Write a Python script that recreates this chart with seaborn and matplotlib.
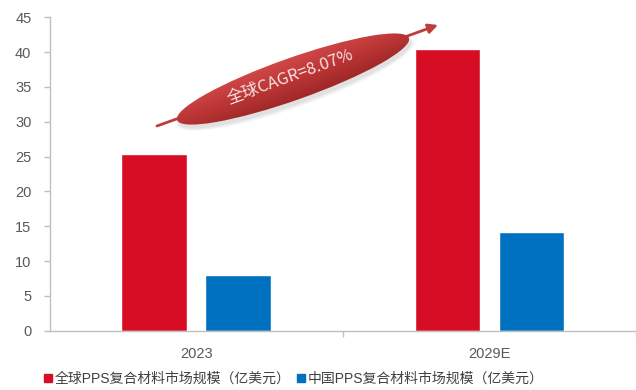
import numpy as np
import pandas as pd
import matplotlib
matplotlib.use("Agg")
import matplotlib.pyplot as plt
import seaborn as sns
from matplotlib.patches import Ellipse
from matplotlib.lines import Line2D
from matplotlib.colors import LinearSegmentedColormap

# Market size data (100 million USD)
years = ["2023", "2029E"]
series = ["全球PPS复合材料市场规模（亿美元）", "中国PPS复合材料市场规模（亿美元）"]
global_size = [25.4, 40.45]
china_size = [8.0, 14.2]
colors = ["#D60D25", "#0070C0"]
cagr_label = "全球CAGR=8.07%"

df = pd.DataFrame({
    "year": years * 2,
    "series": [series[0]] * 2 + [series[1]] * 2,
    "value": global_size + china_size,
})

sns.set_theme(style="white")
plt.rcParams["font.family"] = ["Liberation Sans", "Noto Sans CJK SC"]

W, H = 636, 390
fig = plt.figure(figsize=(W / 100, H / 100), dpi=100)
ax = fig.add_axes([49.5 / W, 1 - 330.7 / H, (W - 49.5) / W, (330.7 - 17.3) / H])

sns.barplot(data=df, x="year", y="value", hue="series", palette=colors,
            width=0.572, gap=0.22, ax=ax, legend=False, saturation=1)

ax.set_ylim(0, 45)
ax.set_yticks(np.arange(0, 46, 5))
ax.set_xlim(-0.5, -0.5 + (W - 49.5) / 295.5)
ax.set_xlabel("")
ax.set_ylabel("")

grey = "#BFBFBF"
txt = "#595959"
for s in ["top", "right"]:
    ax.spines[s].set_visible(False)
for s in ["left", "bottom"]:
    ax.spines[s].set_color(grey)
    ax.spines[s].set_linewidth(1.0)

ax.tick_params(axis="y", which="major", direction="out", length=4, width=1,
               color=grey, labelcolor=txt, labelsize=10.5, pad=9, left=True)
ax.set_xticks([0.5, 1.5], minor=True)
ax.tick_params(axis="x", which="minor", direction="out", length=4, width=1,
               color=grey, bottom=True)
ax.tick_params(axis="x", which="major", length=0, labelcolor=txt,
               labelsize=10.5, pad=12)

# Legend below the plot
handles = [Line2D([0], [0], marker="s", linestyle="none", markersize=6,
                  markerfacecolor=c, markeredgecolor=c) for c in colors]
fig.legend(handles, series, loc="center left", bbox_to_anchor=(30 / W, 1 - 379 / H),
           ncol=2, frameon=False, fontsize=10, handletextpad=0.1,
           columnspacing=0.3, handlelength=0.8, labelcolor="#404040")

# Overlay in pixel coordinates for the growth annotation
ov = fig.add_axes([0, 0, 1, 1], facecolor="none")
ov.set_xlim(0, W)
ov.set_ylim(0, H)
ov.axis("off")

def py(y):
    return H - y

# Arrow across the bars
ov.annotate("", xy=(438, py(25)), xytext=(157, py(126)),
            arrowprops=dict(arrowstyle="-|>", color="#C23B3B", lw=2,
                            mutation_scale=14, shrinkA=0, shrinkB=0), zorder=1)

cx, cy = 293, py(79)
ang = 19.5
ew, eh = 246, 42

# Soft shadow
for k, a in enumerate([0.06, 0.08, 0.1]):
    sh = Ellipse((cx + 2, cy - 4), ew + 6 - 3 * k, eh + 6 - 3 * k, angle=ang,
                 facecolor="#7a7a7a", edgecolor="none", alpha=a, zorder=2)
    ov.add_patch(sh)

# Shaded ellipse body
ell = Ellipse((cx, cy), ew, eh, angle=ang, facecolor="none", edgecolor="none", zorder=3)
ov.add_patch(ell)
xs = np.linspace(cx - 130, cx + 130, 260)
ys = np.linspace(cy - 60, cy + 60, 120)
X, Y = np.meshgrid(xs, ys)
t = np.deg2rad(ang)
u = (-(X - cx) * np.sin(t) + (Y - cy) * np.cos(t)) / (eh / 2)
v = ((X - cx) * np.cos(t) + (Y - cy) * np.sin(t)) / (ew / 2)
g = np.clip(0.5 + 0.5 * u, 0, 1) - 0.15 * np.clip(v, 0, 1)
cmap = LinearSegmentedColormap.from_list("shade", ["#A02828", "#BD3636", "#D04747"])
im = ov.imshow(g, extent=(xs[0], xs[-1], ys[0], ys[-1]), origin="lower",
               cmap=cmap, vmin=0, vmax=1, zorder=3, aspect="auto",
               interpolation="bilinear")
im.set_clip_path(ell)

ov.text(290, py(77), cagr_label, rotation=20, rotation_mode="anchor",
        ha="center", va="center", color="#F6E3E3", fontsize=12,
        family=["Noto Sans CJK SC"], zorder=4)

fig.savefig("out.png", dpi=100)
